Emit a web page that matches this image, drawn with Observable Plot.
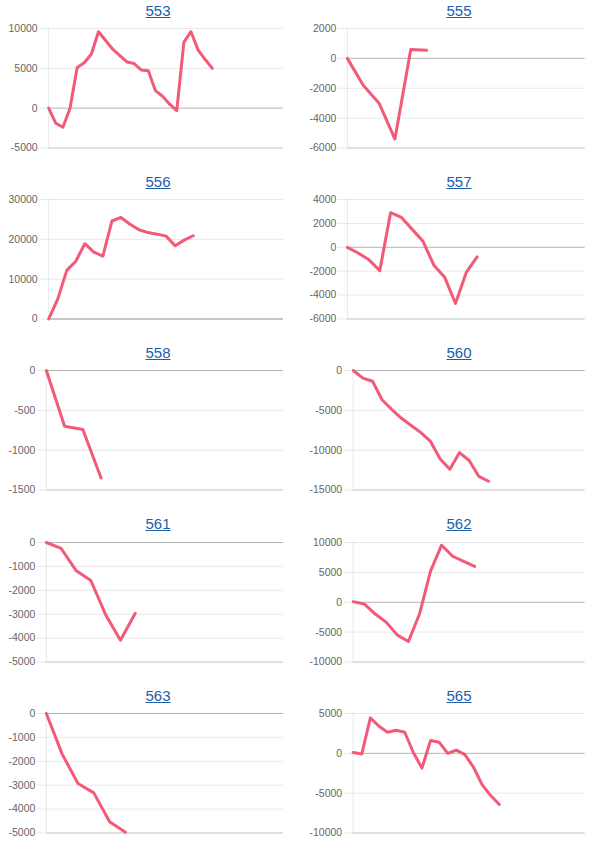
<!DOCTYPE html>
<html><head><meta charset="utf-8">
<script src="https://cdn.jsdelivr.net/npm/d3@7"></script>
<script src="https://cdn.jsdelivr.net/npm/@observablehq/plot@0.6"></script>
<style>
body{margin:0;background:#fff;font-family:"Liberation Sans",Arial,sans-serif;}
#root{position:relative;width:606px;height:847px;overflow:hidden;}
.title{position:absolute;width:300px;text-align:center;font-size:15px;line-height:15px;}
.title a{color:#1d5ea8;text-decoration:underline;}
.panel{position:absolute;}
</style></head><body><div id="root"></div>
<script>
// panel titles
const ids = ["553","555","556","557","558","560","561","562","563","565"];
// series values (one per panel)
const s553 = [0,-1900,-2400,0,5100,5700,6800,9600,8500,7400,6600,5800,5600,4800,4700,2200,1500,500,-300,8300,9600,7300,6100,5000];
const s555 = [0,-1800,-3000,-5400,600,550];
const s556 = [0,5000,12200,14500,18900,16800,15800,24600,25500,23800,22400,21700,21300,20800,18400,19800,20900];
const s557 = [0,-480,-1050,-1950,2900,2500,1500,500,-1500,-2500,-4700,-2100,-800];
const s558 = [0,-700,-740,-1350];
const s560 = [0,-950,-1350,-3700,-4900,-6000,-6900,-7800,-8900,-11100,-12400,-10300,-11300,-13300,-13900];
const s561 = [0,-250,-1170,-1590,-3020,-4090,-2960];
const s562 = [100,-280,-1970,-3370,-5500,-6570,-1970,5220,9550,7700,6850,6000];
const s563 = [0,-1700,-2930,-3320,-4530,-4970];
const s565 = [100,-80,4450,3400,2650,2900,2650,100,-1850,1600,1400,0,400,-170,-1750,-3930,-5300,-6420];
const series = [s553,s555,s556,s557,s558,s560,s561,s562,s563,s565];
// number of x slots on each panel's category axis
const slots = [33,15,26,22,13,24,16,21,15,27];
// y tick labels per panel
const t553 = [-5000,0,5000,10000];
const t555 = [-6000,-4000,-2000,0,2000];
const t556 = [0,10000,20000,30000];
const t557 = [-6000,-4000,-2000,0,2000,4000];
const t558 = [-1500,-1000,-500,0];
const t560 = [-15000,-10000,-5000,0];
const t561 = [-5000,-4000,-3000,-2000,-1000,0];
const t562 = [-10000,-5000,0,5000,10000];
const t563 = [-5000,-4000,-3000,-2000,-1000,0];
const t565 = [-10000,-5000,0,5000];
const ticks = [t553,t555,t556,t557,t558,t560,t561,t562,t563,t565];

const root = document.getElementById("root");
const FONT = 10.5;
const ctx = document.createElement("canvas").getContext("2d");
ctx.font = FONT + "px 'Liberation Sans'";
const ROW = 171.3;

ids.forEach((id, i) => {
  const col = i % 2, row = Math.floor(i / 2);
  const rowTop = row * ROW;
  const t = document.createElement("div");
  t.className = "title";
  t.style.left = (col === 0 ? 8 : 309) + "px";
  t.style.top = (rowTop + 2.5) + "px";
  const a = document.createElement("a");
  a.href = "#"; a.textContent = id;
  t.appendChild(a);
  root.appendChild(t);

  const tk = ticks[i];
  const w = Math.max(...tk.map(v => ctx.measureText(String(v)).width));
  const svgLeft = col === 0 ? 2.3 : 303;
  const ml = w + 17;
  const mr = col === 0 ? 9 : 8.3;
  const lo = Math.min(...tk), hi = Math.max(...tk);
  const data = series[i].map((v, j) => ({x: j, y: v}));
  const chart = Plot.plot({
    width: 290,
    height: 8 + 119.5 + 6,
    marginTop: 8, marginBottom: 6, marginLeft: ml, marginRight: mr,
    style: {fontFamily: "'Liberation Sans', Arial, sans-serif", fontSize: FONT + "px", color: "#666", background: "transparent", overflow: "visible"},
    x: {domain: [0, slots[i]], axis: null},
    y: {domain: [lo, hi]},
    marks: [
      Plot.gridY(tk, {stroke: "#000", strokeOpacity: 0.09}),
      Plot.ruleY([lo], {stroke: "#000", strokeOpacity: 0.16}),
      Plot.ruleY([0], {stroke: "#000", strokeOpacity: 0.22}),
      Plot.ruleX([0], {stroke: "#000", strokeOpacity: 0.09}),
      Plot.axisY(tk, {tickSize: 9, tickPadding: 2, stroke: "#000", strokeOpacity: 0.09, fill: "#666", fontSize: FONT, tickFormat: d => String(d), label: null}),
      Plot.line(data, {x: "x", y: "y", stroke: "rgb(242,90,120)", strokeWidth: 3, strokeLinejoin: "round", strokeLinecap: "round"})
    ]
  });
  const holder = document.createElement("div");
  holder.className = "panel";
  holder.style.left = svgLeft + "px";
  holder.style.top = (rowTop + 19.8) + "px";
  holder.appendChild(chart);
  root.appendChild(holder);
});
</script>
</body></html>
